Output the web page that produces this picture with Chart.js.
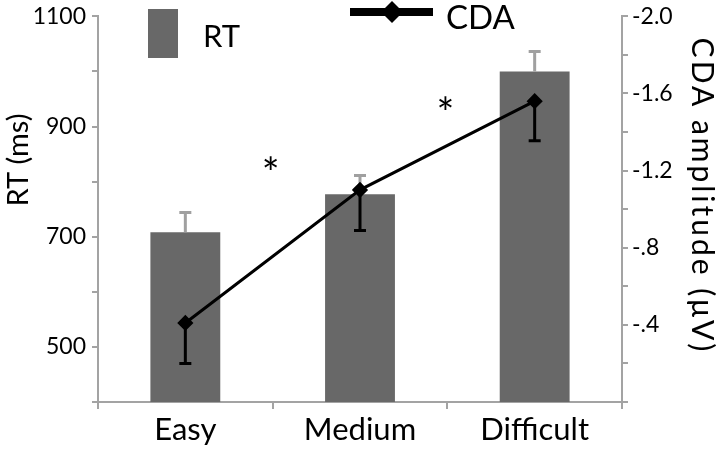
<!DOCTYPE html>
<html>
<head>
<meta charset="utf-8">
<script src="https://cdn.jsdelivr.net/npm/chart.js@4.4.0/dist/chart.umd.min.js"></script>
<style>
    html, body { margin: 0; padding: 0; background: #fff; }
    #wrap { width: 720px; height: 450px; }
</style>
</head>
<body>
<div id="wrap"><canvas id="chart"></canvas></div>
<script>
const categories = ['Easy', 'Medium', 'Difficult'];
const rtValues = [708, 777, 1000];
const rtErrors = [36, 34, 36];
const cdaValues = [-0.41, -1.10, -1.56];
const cdaErrors = [0.21, 0.21, 0.205];
const rtTickLabels = [500, 700, 900, 1100];
const cdaTickLabels = [-2.0, -1.6, -1.2, -0.8, -0.4];
const starCategoryPos = [0.5, 1.5];
const starRtValues = [829, 938];

const FONT = 'Lato, "Open Sans", sans-serif';
const BAR_COLOR = '#686868';
const AXIS_COLOR = '#a3a3a3';

function fmtCda(v) {
    return v.toFixed(1).replace('-0.', '-.');
}

const errorBars = {
    id: 'errorBars',
    afterDatasetDraw(chart, args) {
        const ctx = chart.ctx;
        const x = chart.scales.x;
        const cap = 6;
        ctx.save();
        ctx.lineWidth = 3;
        if (args.index === 0) {
            const y = chart.scales.y;
            ctx.strokeStyle = '#a0a0a0';
            rtValues.forEach((v, i) => {
                const px = x.getPixelForValue(i);
                const y0 = y.getPixelForValue(v);
                const y1 = y.getPixelForValue(v + rtErrors[i]);
                ctx.beginPath();
                ctx.moveTo(px, y0); ctx.lineTo(px, y1);
                ctx.moveTo(px - cap, y1); ctx.lineTo(px + cap, y1);
                ctx.stroke();
            });
        } else {
            const y = chart.scales.y1;
            ctx.strokeStyle = '#000';
            cdaValues.forEach((v, i) => {
                const px = x.getPixelForValue(i);
                const y0 = y.getPixelForValue(v);
                const y1 = y.getPixelForValue(v + cdaErrors[i]);
                ctx.beginPath();
                ctx.moveTo(px, y0); ctx.lineTo(px, y1);
                ctx.moveTo(px - cap, y1); ctx.lineTo(px + cap, y1);
                ctx.stroke();
            });
        }
        ctx.restore();
    }
};

const decorations = {
    id: 'decorations',
    afterDraw(chart) {
        const ctx = chart.ctx;
        ctx.save();
        ctx.fillStyle = '#000';

        // axis titles
        ctx.font = '29px ' + FONT;
        ctx.textAlign = 'center';
        ctx.textBaseline = 'middle';
        ctx.save();
        ctx.translate(19, 160);
        ctx.rotate(-Math.PI / 2);
        ctx.fillText('RT (ms)', 0, 0);
        ctx.restore();
        ctx.save();
        ctx.font = '30px ' + FONT;
        ctx.letterSpacing = '3px';
        ctx.translate(702, 196);
        ctx.rotate(Math.PI / 2);
        ctx.fillText('CDA amplitude (\u03bcV)', 0, 0);
        ctx.restore();

        // significance stars
        ctx.font = '42px ' + FONT;
        starCategoryPos.forEach((c, i) => {
            const px = chart.scales.x.getPixelForValue(c);
            const py = chart.scales.y.getPixelForValue(starRtValues[i]);
            ctx.fillText('*', px - 2, py + 9);
        });

        // legend
        ctx.fillStyle = BAR_COLOR;
        ctx.fillRect(148, 9, 30, 49);
        ctx.fillStyle = '#000';
        ctx.textAlign = 'left';
        ctx.textBaseline = 'alphabetic';
        ctx.font = '31px ' + FONT;
        ctx.fillText('RT', 203, 47);
        ctx.font = '33px ' + FONT;
        ctx.fillText('CDA', 446, 29);
        ctx.strokeStyle = '#000';
        ctx.lineWidth = 8;
        ctx.beginPath();
        ctx.moveTo(350, 12); ctx.lineTo(433, 12);
        ctx.stroke();
        ctx.beginPath();
        ctx.moveTo(392, 1); ctx.lineTo(403, 12); ctx.lineTo(392, 23); ctx.lineTo(381, 12);
        ctx.closePath();
        ctx.fill();
        ctx.restore();
    }
};

new Chart(document.getElementById('chart').getContext('2d'), {
    type: 'bar',
    data: {
        labels: categories,
        datasets: [{
            label: 'RT',
            data: rtValues,
            backgroundColor: BAR_COLOR,
            barPercentage: 0.4,
            categoryPercentage: 1,
            yAxisID: 'y',
            order: 2
        }, {
            type: 'line',
            label: 'CDA',
            data: cdaValues,
            borderColor: '#000',
            backgroundColor: '#000',
            borderWidth: 3,
            pointStyle: 'rectRot',
            pointRadius: 6,
            tension: 0,
            yAxisID: 'y1',
            order: 1
        }]
    },
    options: {
        responsive: true,
        maintainAspectRatio: false,
        animation: false,
        layout: { padding: { top: 11, left: 0, right: 0, bottom: 0 } },
        plugins: { legend: { display: false }, tooltip: { enabled: false } },
        scales: {
            x: {
                grid: { drawOnChartArea: false, tickLength: 7, color: AXIS_COLOR, lineWidth: 2, offset: true },
                border: { color: AXIS_COLOR, width: 2 },
                ticks: { color: '#000', font: { family: FONT, size: 31 }, padding: 2 },
                afterFit(s) { s.height = 48; }
            },
            y: {
                position: 'left',
                min: 400,
                max: 1100,
                grid: { drawOnChartArea: false, tickLength: 6, color: AXIS_COLOR, lineWidth: 2 },
                border: { color: AXIS_COLOR, width: 2 },
                ticks: {
                    stepSize: 100,
                    autoSkip: false,
                    color: '#000',
                    padding: 6,
                    font: { family: FONT, size: 23, lineHeight: 0.9 },
                    callback: v => rtTickLabels.includes(v) ? String(v) : ''
                },
                afterFit(s) { s.width = 98; }
            },
            y1: {
                position: 'right',
                min: -2,
                max: 0,
                reverse: true,
                grid: { drawOnChartArea: false, tickLength: 6, color: AXIS_COLOR, lineWidth: 2 },
                border: { color: AXIS_COLOR, width: 2 },
                ticks: {
                    stepSize: 0.2,
                    autoSkip: false,
                    color: '#000',
                    padding: 4,
                    font: { family: FONT, size: 23, lineHeight: 0.9 },
                    callback: v => {
                        const t = cdaTickLabels.find(c => Math.abs(c - v) < 1e-6);
                        return t === undefined ? '' : fmtCda(t);
                    }
                },
                afterFit(s) { s.width = 98; }
            }
        }
    },
    plugins: [errorBars, decorations]
});
</script>
</body>
</html>
